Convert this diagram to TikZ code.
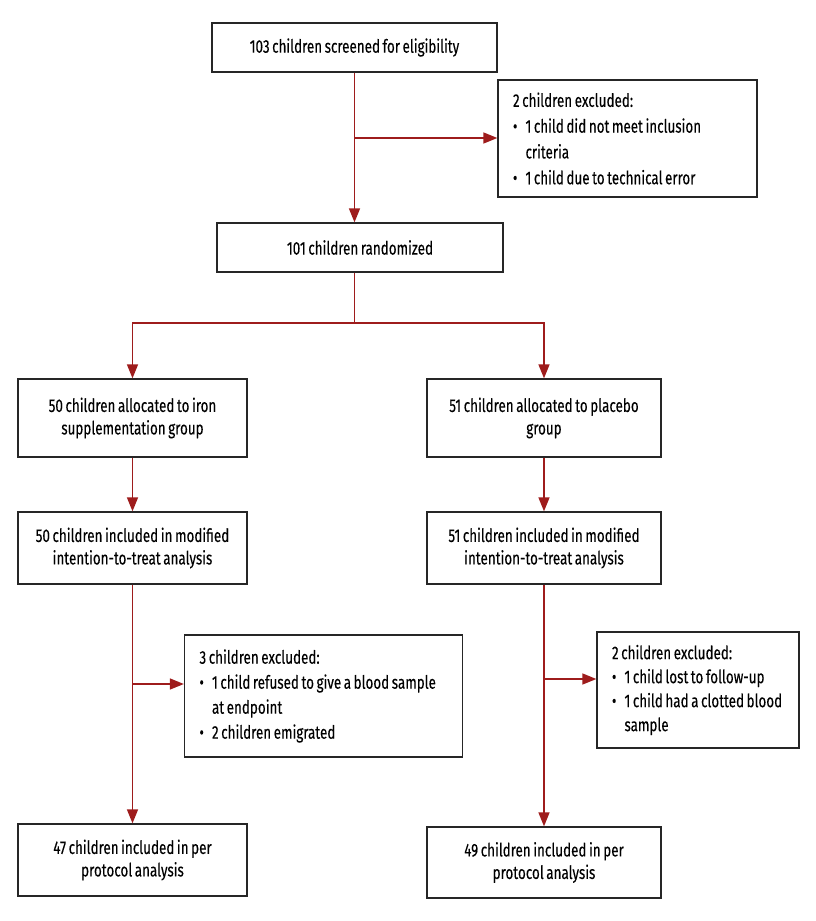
\documentclass[tikz,border=0pt]{standalone}
\usepackage{fontspec}
\setmainfont{Fira Sans}[FakeStretch=0.73, WordSpace=0.72, FakeBold=0.2]
\usetikzlibrary{arrows.meta}
\definecolor{linkred}{HTML}{9E1C1C}
\definecolor{boxline}{HTML}{262626}
\tikzset{
  box/.style={draw=boxline, line width=1.3pt, inner sep=0pt, align=center,
    font=\fontsize{18.4}{22.5}\selectfont},
  exbox/.style={draw=boxline, line width=1.3pt, inner xsep=15pt, inner ysep=0pt,
    align=flush left, font=\fontsize{18.4}{25}\selectfont},
  link/.style={draw=linkred, line width=1.5pt},
  arr/.style={link, -{Triangle[length=14pt,width=11pt]}},
}
\newcommand{\bul}{\makebox[12.5pt][l]{\textbullet}}
\newcommand{\ind}{\hspace*{12.5pt}}
\begin{document}
\begin{tikzpicture}[x=1pt,y=-1pt]
\useasboundingbox (0,0) rectangle (815,921);
% boxes
\node[box, minimum width=285pt, minimum height=49pt] (top) at (354.5,47.5) {103 children screened for eligibility};
\node[exbox, minimum width=259pt, minimum height=117pt, text width=229pt, font=\fontsize{18.4}{25.8}\selectfont] (ex1) at (627.5,138.5)
  {2 children excluded:\\ \bul 1 child did not meet inclusion\\ \ind criteria\\ \bul 1 child due to technical error};
\node[box, minimum width=286pt, minimum height=49pt] (rand) at (360,247.5) {101 children randomized};
\node[box, minimum width=229pt, minimum height=78pt] (alL) at (132.5,418) {50 children allocated to iron\\ supplementation group};
\node[box, minimum width=234pt, minimum height=78pt] (alR) at (544,418) {51 children allocated to placebo\\ group};
\node[box, minimum width=229pt, minimum height=72pt] (itL) at (132.5,548) {50 children included in modified\\ intention-to-treat analysis};
\node[box, minimum width=234pt, minimum height=72pt] (itR) at (544,548) {51 children included in modified\\ intention-to-treat analysis};
\node[exbox, minimum width=278pt, minimum height=122pt, text width=248pt] (exL) at (323.5,696)
  {3 children excluded:\\ \bul 1 child refused to give a blood sample\\ \ind at endpoint\\ \bul 2 children emigrated};
\node[exbox, minimum width=202pt, minimum height=116pt, text width=172pt, font=\fontsize{18.4}{24}\selectfont] (exR) at (698,690)
  {2 children excluded:\\ \bul 1 child lost to follow-up\\ \bul 1 child had a clotted blood\\ \ind sample};
\node[box, minimum width=229pt, minimum height=72pt] (ppL) at (132.5,860) {47 children included in per\\ protocol analysis};
\node[box, minimum width=234pt, minimum height=71pt] (ppR) at (544,862.5) {49 children included in per\\ protocol analysis};
% connectors
\coordinate (b1) at (354.5,138);
\coordinate (split) at (354.5,323);
\coordinate (bL) at (132.5,684);
\coordinate (bR) at (544,679);
\draw[arr] (top) -- (top.south |- rand.north);
\draw[arr] (b1) -- (b1 -| ex1.west);
\draw[link] (rand.south -| split) -- (split);
\draw[arr] (split) -| (alL.north);
\draw[arr] (split) -| (alR.north);
\draw[arr] (alL) -- (itL);
\draw[arr] (alR) -- (itR);
\draw[arr] (itL) -- (ppL);
\draw[arr] (itR) -- (ppR);
\draw[arr] (bL) -- (bL -| exL.west);
\draw[arr] (bR) -- (bR -| exR.west);
\end{tikzpicture}
\end{document}
